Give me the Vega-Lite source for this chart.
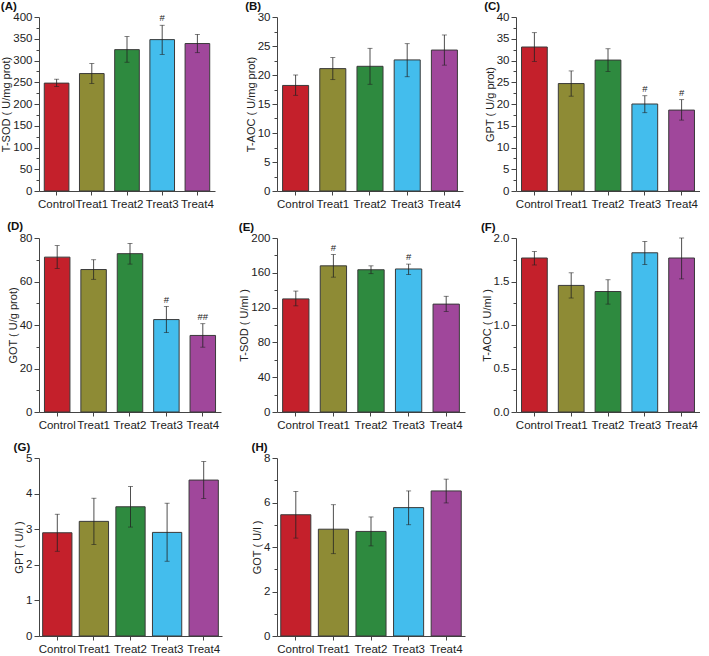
{
  "$schema": "https://vega.github.io/schema/vega-lite/v6.json",
  "padding": {"left": 0, "top": 0, "right": 0, "bottom": 0},
  "config": {
    "font": "Liberation Sans",
    "view": {"stroke": null},
    "axis": {"labelFontSize": 11.5, "labelColor": "#222", "titleFontSize": 11, "titleFontWeight": "normal", "titleColor": "#222", "domainColor": "#444", "tickColor": "#444", "grid": false},
    "axisX": {"title": null, "labelAngle": 0, "tickSize": 4, "labelOverlap": false, "labelPadding": 3},
    "axisY": {"titlePadding": 1, "labelPadding": 2, "labelOverlap": false},
    "title": {"fontSize": 11.5, "fontWeight": "bold", "anchor": "start", "frame": "bounds", "offset": -1, "color": "#111"},
    "bar": {"stroke": "#3a3a3a", "strokeWidth": 1}
  },
  "columns": 3,
  "align": "each",
  "spacing": {"row": 10, "column": 16},
  "datasets": {
    "d": [
      {"p": "A", "g": "Control", "v": 248, "lo": 240, "hi": 257, "s": ""},
      {"p": "A", "g": "Treat1", "v": 270, "lo": 247, "hi": 293, "s": ""},
      {"p": "A", "g": "Treat2", "v": 325, "lo": 296, "hi": 355, "s": ""},
      {"p": "A", "g": "Treat3", "v": 348, "lo": 314, "hi": 381, "s": "#"},
      {"p": "A", "g": "Treat4", "v": 339, "lo": 318, "hi": 360, "s": ""},
      {"p": "B", "g": "Control", "v": 18.2, "lo": 16.5, "hi": 20.0, "s": ""},
      {"p": "B", "g": "Treat1", "v": 21.1, "lo": 19.2, "hi": 23.0, "s": ""},
      {"p": "B", "g": "Treat2", "v": 21.5, "lo": 18.4, "hi": 24.6, "s": ""},
      {"p": "B", "g": "Treat3", "v": 22.6, "lo": 19.7, "hi": 25.4, "s": ""},
      {"p": "B", "g": "Treat4", "v": 24.3, "lo": 21.7, "hi": 26.9, "s": ""},
      {"p": "C", "g": "Control", "v": 33.1, "lo": 29.8, "hi": 36.4, "s": ""},
      {"p": "C", "g": "Treat1", "v": 24.7, "lo": 21.8, "hi": 27.6, "s": ""},
      {"p": "C", "g": "Treat2", "v": 30.1, "lo": 27.5, "hi": 32.7, "s": ""},
      {"p": "C", "g": "Treat3", "v": 20.0, "lo": 18.0, "hi": 21.9, "s": "#"},
      {"p": "C", "g": "Treat4", "v": 18.6, "lo": 16.3, "hi": 21.0, "s": "#"},
      {"p": "D", "g": "Control", "v": 71.2, "lo": 66.0, "hi": 76.5, "s": ""},
      {"p": "D", "g": "Treat1", "v": 65.5, "lo": 61.0, "hi": 70.0, "s": ""},
      {"p": "D", "g": "Treat2", "v": 72.8, "lo": 68.0, "hi": 77.5, "s": ""},
      {"p": "D", "g": "Treat3", "v": 42.5, "lo": 36.5, "hi": 48.5, "s": "#"},
      {"p": "D", "g": "Treat4", "v": 35.2, "lo": 29.8, "hi": 40.6, "s": "##"},
      {"p": "E", "g": "Control", "v": 130, "lo": 122, "hi": 139, "s": ""},
      {"p": "E", "g": "Treat1", "v": 168, "lo": 155, "hi": 181, "s": "#"},
      {"p": "E", "g": "Treat2", "v": 163.5, "lo": 159, "hi": 168, "s": ""},
      {"p": "E", "g": "Treat3", "v": 164.4, "lo": 158, "hi": 170, "s": "#"},
      {"p": "E", "g": "Treat4", "v": 124, "lo": 115.5, "hi": 133, "s": ""},
      {"p": "F", "g": "Control", "v": 1.77, "lo": 1.69, "hi": 1.845, "s": ""},
      {"p": "F", "g": "Treat1", "v": 1.455, "lo": 1.31, "hi": 1.60, "s": ""},
      {"p": "F", "g": "Treat2", "v": 1.385, "lo": 1.24, "hi": 1.52, "s": ""},
      {"p": "F", "g": "Treat3", "v": 1.83, "lo": 1.695, "hi": 1.96, "s": ""},
      {"p": "F", "g": "Treat4", "v": 1.77, "lo": 1.53, "hi": 2.0, "s": ""},
      {"p": "G", "g": "Control", "v": 2.9, "lo": 2.38, "hi": 3.42, "s": ""},
      {"p": "G", "g": "Treat1", "v": 3.22, "lo": 2.57, "hi": 3.87, "s": ""},
      {"p": "G", "g": "Treat2", "v": 3.63, "lo": 3.06, "hi": 4.2, "s": ""},
      {"p": "G", "g": "Treat3", "v": 2.91, "lo": 2.1, "hi": 3.73, "s": ""},
      {"p": "G", "g": "Treat4", "v": 4.38, "lo": 3.86, "hi": 4.9, "s": ""},
      {"p": "H", "g": "Control", "v": 5.45, "lo": 4.4, "hi": 6.5, "s": ""},
      {"p": "H", "g": "Treat1", "v": 4.8, "lo": 3.7, "hi": 5.9, "s": ""},
      {"p": "H", "g": "Treat2", "v": 4.7, "lo": 4.05, "hi": 5.35, "s": ""},
      {"p": "H", "g": "Treat3", "v": 5.77, "lo": 5.0, "hi": 6.52, "s": ""},
      {"p": "H", "g": "Treat4", "v": 6.52, "lo": 5.98, "hi": 7.05, "s": ""}
    ]
  },
  "concat": [
    {"title": "(A)", "width": 176, "height": 174, "data": {"name": "d"}, "transform": [{"filter": "datum.p == 'A'"}],
     "encoding": {"x": {"field": "g", "type": "nominal", "sort": null, "scale": {"paddingInner": 0.3, "paddingOuter": 0.15}}},
     "layer": [
       {"mark": "bar", "encoding": {"y": {"field": "v", "type": "quantitative", "scale": {"domain": [0, 400], "nice": false}, "axis": {"title": "T-SOD ( U/mg prot)", "values": [0, 25, 50, 75, 100, 125, 150, 175, 200, 225, 250, 275, 300, 325, 350, 375, 400], "labelExpr": "datum.value % 50 == 0 ? datum.label : ''", "tickSize": {"condition": {"test": "datum.value % 50 != 0", "value": 3}, "value": 5}}}, "color": {"field": "g", "type": "nominal", "legend": null, "scale": {"domain": ["Control", "Treat1", "Treat2", "Treat3", "Treat4"], "range": ["#C4202B", "#8E8B35", "#2E8A3F", "#43BDED", "#A0479B"]}}}},
       {"mark": {"type": "rule", "color": "#222", "strokeWidth": 0.8}, "encoding": {"y": {"field": "lo", "type": "quantitative", "scale": {"domain": [0, 400], "nice": false}, "axis": {"title": "T-SOD ( U/mg prot)", "values": [0, 25, 50, 75, 100, 125, 150, 175, 200, 225, 250, 275, 300, 325, 350, 375, 400], "labelExpr": "datum.value % 50 == 0 ? datum.label : ''", "tickSize": {"condition": {"test": "datum.value % 50 != 0", "value": 3}, "value": 5}}}, "y2": {"field": "hi"}}},
       {"mark": {"type": "tick", "color": "#222", "size": 5, "thickness": 0.8}, "encoding": {"y": {"field": "lo", "type": "quantitative", "scale": {"domain": [0, 400], "nice": false}, "axis": {"title": "T-SOD ( U/mg prot)", "values": [0, 25, 50, 75, 100, 125, 150, 175, 200, 225, 250, 275, 300, 325, 350, 375, 400], "labelExpr": "datum.value % 50 == 0 ? datum.label : ''", "tickSize": {"condition": {"test": "datum.value % 50 != 0", "value": 3}, "value": 5}}}}},
       {"mark": {"type": "tick", "color": "#222", "size": 5, "thickness": 0.8}, "encoding": {"y": {"field": "hi", "type": "quantitative", "scale": {"domain": [0, 400], "nice": false}, "axis": {"title": "T-SOD ( U/mg prot)", "values": [0, 25, 50, 75, 100, 125, 150, 175, 200, 225, 250, 275, 300, 325, 350, 375, 400], "labelExpr": "datum.value % 50 == 0 ? datum.label : ''", "tickSize": {"condition": {"test": "datum.value % 50 != 0", "value": 3}, "value": 5}}}}},
       {"mark": {"type": "text", "dy": -7, "fontSize": 9.5, "color": "#222"}, "encoding": {"y": {"field": "hi", "type": "quantitative", "scale": {"domain": [0, 400], "nice": false}, "axis": {"title": "T-SOD ( U/mg prot)", "values": [0, 25, 50, 75, 100, 125, 150, 175, 200, 225, 250, 275, 300, 325, 350, 375, 400], "labelExpr": "datum.value % 50 == 0 ? datum.label : ''", "tickSize": {"condition": {"test": "datum.value % 50 != 0", "value": 3}, "value": 5}}}, "text": {"field": "s"}}}
     ]},
    {"title": "(B)", "width": 186, "height": 174, "data": {"name": "d"}, "transform": [{"filter": "datum.p == 'B'"}],
     "encoding": {"x": {"field": "g", "type": "nominal", "sort": null, "scale": {"paddingInner": 0.3, "paddingOuter": 0.15}}},
     "layer": [
       {"mark": "bar", "encoding": {"y": {"field": "v", "type": "quantitative", "scale": {"domain": [0, 30], "nice": false}, "axis": {"title": "T-AOC ( U/mg prot)", "values": [0, 2.5, 5, 7.5, 10, 12.5, 15, 17.5, 20, 22.5, 25, 27.5, 30], "labelExpr": "datum.value % 5 == 0 ? datum.label : ''", "tickSize": {"condition": {"test": "datum.value % 5 != 0", "value": 3}, "value": 5}}}, "color": {"field": "g", "type": "nominal", "legend": null, "scale": {"domain": ["Control", "Treat1", "Treat2", "Treat3", "Treat4"], "range": ["#C4202B", "#8E8B35", "#2E8A3F", "#43BDED", "#A0479B"]}}}},
       {"mark": {"type": "rule", "color": "#222", "strokeWidth": 0.8}, "encoding": {"y": {"field": "lo", "type": "quantitative", "scale": {"domain": [0, 30], "nice": false}, "axis": {"title": "T-AOC ( U/mg prot)", "values": [0, 2.5, 5, 7.5, 10, 12.5, 15, 17.5, 20, 22.5, 25, 27.5, 30], "labelExpr": "datum.value % 5 == 0 ? datum.label : ''", "tickSize": {"condition": {"test": "datum.value % 5 != 0", "value": 3}, "value": 5}}}, "y2": {"field": "hi"}}},
       {"mark": {"type": "tick", "color": "#222", "size": 5, "thickness": 0.8}, "encoding": {"y": {"field": "lo", "type": "quantitative", "scale": {"domain": [0, 30], "nice": false}, "axis": {"title": "T-AOC ( U/mg prot)", "values": [0, 2.5, 5, 7.5, 10, 12.5, 15, 17.5, 20, 22.5, 25, 27.5, 30], "labelExpr": "datum.value % 5 == 0 ? datum.label : ''", "tickSize": {"condition": {"test": "datum.value % 5 != 0", "value": 3}, "value": 5}}}}},
       {"mark": {"type": "tick", "color": "#222", "size": 5, "thickness": 0.8}, "encoding": {"y": {"field": "hi", "type": "quantitative", "scale": {"domain": [0, 30], "nice": false}, "axis": {"title": "T-AOC ( U/mg prot)", "values": [0, 2.5, 5, 7.5, 10, 12.5, 15, 17.5, 20, 22.5, 25, 27.5, 30], "labelExpr": "datum.value % 5 == 0 ? datum.label : ''", "tickSize": {"condition": {"test": "datum.value % 5 != 0", "value": 3}, "value": 5}}}}}
     ]},
    {"title": "(C)", "width": 184, "height": 174, "data": {"name": "d"}, "transform": [{"filter": "datum.p == 'C'"}],
     "encoding": {"x": {"field": "g", "type": "nominal", "sort": null, "scale": {"paddingInner": 0.3, "paddingOuter": 0.15}}},
     "layer": [
       {"mark": "bar", "encoding": {"y": {"field": "v", "type": "quantitative", "scale": {"domain": [0, 40], "nice": false}, "axis": {"title": "GPT ( U/g prot)", "values": [0, 2.5, 5, 7.5, 10, 12.5, 15, 17.5, 20, 22.5, 25, 27.5, 30, 32.5, 35, 37.5, 40], "labelExpr": "datum.value % 5 == 0 ? datum.label : ''", "tickSize": {"condition": {"test": "datum.value % 5 != 0", "value": 3}, "value": 5}}}, "color": {"field": "g", "type": "nominal", "legend": null, "scale": {"domain": ["Control", "Treat1", "Treat2", "Treat3", "Treat4"], "range": ["#C4202B", "#8E8B35", "#2E8A3F", "#43BDED", "#A0479B"]}}}},
       {"mark": {"type": "rule", "color": "#222", "strokeWidth": 0.8}, "encoding": {"y": {"field": "lo", "type": "quantitative", "scale": {"domain": [0, 40], "nice": false}, "axis": {"title": "GPT ( U/g prot)", "values": [0, 2.5, 5, 7.5, 10, 12.5, 15, 17.5, 20, 22.5, 25, 27.5, 30, 32.5, 35, 37.5, 40], "labelExpr": "datum.value % 5 == 0 ? datum.label : ''", "tickSize": {"condition": {"test": "datum.value % 5 != 0", "value": 3}, "value": 5}}}, "y2": {"field": "hi"}}},
       {"mark": {"type": "tick", "color": "#222", "size": 5, "thickness": 0.8}, "encoding": {"y": {"field": "lo", "type": "quantitative", "scale": {"domain": [0, 40], "nice": false}, "axis": {"title": "GPT ( U/g prot)", "values": [0, 2.5, 5, 7.5, 10, 12.5, 15, 17.5, 20, 22.5, 25, 27.5, 30, 32.5, 35, 37.5, 40], "labelExpr": "datum.value % 5 == 0 ? datum.label : ''", "tickSize": {"condition": {"test": "datum.value % 5 != 0", "value": 3}, "value": 5}}}}},
       {"mark": {"type": "tick", "color": "#222", "size": 5, "thickness": 0.8}, "encoding": {"y": {"field": "hi", "type": "quantitative", "scale": {"domain": [0, 40], "nice": false}, "axis": {"title": "GPT ( U/g prot)", "values": [0, 2.5, 5, 7.5, 10, 12.5, 15, 17.5, 20, 22.5, 25, 27.5, 30, 32.5, 35, 37.5, 40], "labelExpr": "datum.value % 5 == 0 ? datum.label : ''", "tickSize": {"condition": {"test": "datum.value % 5 != 0", "value": 3}, "value": 5}}}}},
       {"mark": {"type": "text", "dy": -7, "fontSize": 9.5, "color": "#222"}, "encoding": {"y": {"field": "hi", "type": "quantitative", "scale": {"domain": [0, 40], "nice": false}, "axis": {"title": "GPT ( U/g prot)", "values": [0, 2.5, 5, 7.5, 10, 12.5, 15, 17.5, 20, 22.5, 25, 27.5, 30, 32.5, 35, 37.5, 40], "labelExpr": "datum.value % 5 == 0 ? datum.label : ''", "tickSize": {"condition": {"test": "datum.value % 5 != 0", "value": 3}, "value": 5}}}, "text": {"field": "s"}}}
     ]},
    {"title": "(D)", "width": 182, "height": 174, "data": {"name": "d"}, "transform": [{"filter": "datum.p == 'D'"}],
     "encoding": {"x": {"field": "g", "type": "nominal", "sort": null, "scale": {"paddingInner": 0.3, "paddingOuter": 0.15}}},
     "layer": [
       {"mark": "bar", "encoding": {"y": {"field": "v", "type": "quantitative", "scale": {"domain": [0, 80], "nice": false}, "axis": {"title": "GOT ( U/g prot)", "values": [0, 10, 20, 30, 40, 50, 60, 70, 80], "labelExpr": "datum.value % 20 == 0 ? datum.label : ''", "tickSize": {"condition": {"test": "datum.value % 20 != 0", "value": 3}, "value": 5}}}, "color": {"field": "g", "type": "nominal", "legend": null, "scale": {"domain": ["Control", "Treat1", "Treat2", "Treat3", "Treat4"], "range": ["#C2392A", "#8E8B35", "#2E8A3F", "#5BC2EE", "#A0479B"]}}}},
       {"mark": {"type": "rule", "color": "#222", "strokeWidth": 0.8}, "encoding": {"y": {"field": "lo", "type": "quantitative", "scale": {"domain": [0, 80], "nice": false}, "axis": {"title": "GOT ( U/g prot)", "values": [0, 10, 20, 30, 40, 50, 60, 70, 80], "labelExpr": "datum.value % 20 == 0 ? datum.label : ''", "tickSize": {"condition": {"test": "datum.value % 20 != 0", "value": 3}, "value": 5}}}, "y2": {"field": "hi"}}},
       {"mark": {"type": "tick", "color": "#222", "size": 5, "thickness": 0.8}, "encoding": {"y": {"field": "lo", "type": "quantitative", "scale": {"domain": [0, 80], "nice": false}, "axis": {"title": "GOT ( U/g prot)", "values": [0, 10, 20, 30, 40, 50, 60, 70, 80], "labelExpr": "datum.value % 20 == 0 ? datum.label : ''", "tickSize": {"condition": {"test": "datum.value % 20 != 0", "value": 3}, "value": 5}}}}},
       {"mark": {"type": "tick", "color": "#222", "size": 5, "thickness": 0.8}, "encoding": {"y": {"field": "hi", "type": "quantitative", "scale": {"domain": [0, 80], "nice": false}, "axis": {"title": "GOT ( U/g prot)", "values": [0, 10, 20, 30, 40, 50, 60, 70, 80], "labelExpr": "datum.value % 20 == 0 ? datum.label : ''", "tickSize": {"condition": {"test": "datum.value % 20 != 0", "value": 3}, "value": 5}}}}},
       {"mark": {"type": "text", "dy": -7, "fontSize": 9.5, "color": "#222"}, "encoding": {"y": {"field": "hi", "type": "quantitative", "scale": {"domain": [0, 80], "nice": false}, "axis": {"title": "GOT ( U/g prot)", "values": [0, 10, 20, 30, 40, 50, 60, 70, 80], "labelExpr": "datum.value % 20 == 0 ? datum.label : ''", "tickSize": {"condition": {"test": "datum.value % 20 != 0", "value": 3}, "value": 5}}}, "text": {"field": "s"}}}
     ]},
    {"title": "(E)", "width": 188, "height": 174, "data": {"name": "d"}, "transform": [{"filter": "datum.p == 'E'"}],
     "encoding": {"x": {"field": "g", "type": "nominal", "sort": null, "scale": {"paddingInner": 0.3, "paddingOuter": 0.15}}},
     "layer": [
       {"mark": "bar", "encoding": {"y": {"field": "v", "type": "quantitative", "scale": {"domain": [0, 200], "nice": false}, "axis": {"title": "T-SOD ( U/ml )", "values": [0, 20, 40, 60, 80, 100, 120, 140, 160, 180, 200], "labelExpr": "datum.value % 40 == 0 ? datum.label : ''", "tickSize": {"condition": {"test": "datum.value % 40 != 0", "value": 3}, "value": 5}}}, "color": {"field": "g", "type": "nominal", "legend": null, "scale": {"domain": ["Control", "Treat1", "Treat2", "Treat3", "Treat4"], "range": ["#C2392A", "#8E8B35", "#2E8A3F", "#43BDED", "#A0479B"]}}}},
       {"mark": {"type": "rule", "color": "#222", "strokeWidth": 0.8}, "encoding": {"y": {"field": "lo", "type": "quantitative", "scale": {"domain": [0, 200], "nice": false}, "axis": {"title": "T-SOD ( U/ml )", "values": [0, 20, 40, 60, 80, 100, 120, 140, 160, 180, 200], "labelExpr": "datum.value % 40 == 0 ? datum.label : ''", "tickSize": {"condition": {"test": "datum.value % 40 != 0", "value": 3}, "value": 5}}}, "y2": {"field": "hi"}}},
       {"mark": {"type": "tick", "color": "#222", "size": 5, "thickness": 0.8}, "encoding": {"y": {"field": "lo", "type": "quantitative", "scale": {"domain": [0, 200], "nice": false}, "axis": {"title": "T-SOD ( U/ml )", "values": [0, 20, 40, 60, 80, 100, 120, 140, 160, 180, 200], "labelExpr": "datum.value % 40 == 0 ? datum.label : ''", "tickSize": {"condition": {"test": "datum.value % 40 != 0", "value": 3}, "value": 5}}}}},
       {"mark": {"type": "tick", "color": "#222", "size": 5, "thickness": 0.8}, "encoding": {"y": {"field": "hi", "type": "quantitative", "scale": {"domain": [0, 200], "nice": false}, "axis": {"title": "T-SOD ( U/ml )", "values": [0, 20, 40, 60, 80, 100, 120, 140, 160, 180, 200], "labelExpr": "datum.value % 40 == 0 ? datum.label : ''", "tickSize": {"condition": {"test": "datum.value % 40 != 0", "value": 3}, "value": 5}}}}},
       {"mark": {"type": "text", "dy": -7, "fontSize": 9.5, "color": "#222"}, "encoding": {"y": {"field": "hi", "type": "quantitative", "scale": {"domain": [0, 200], "nice": false}, "axis": {"title": "T-SOD ( U/ml )", "values": [0, 20, 40, 60, 80, 100, 120, 140, 160, 180, 200], "labelExpr": "datum.value % 40 == 0 ? datum.label : ''", "tickSize": {"condition": {"test": "datum.value % 40 != 0", "value": 3}, "value": 5}}}, "text": {"field": "s"}}}
     ]},
    {"title": "(F)", "width": 184, "height": 174, "data": {"name": "d"}, "transform": [{"filter": "datum.p == 'F'"}],
     "encoding": {"x": {"field": "g", "type": "nominal", "sort": null, "scale": {"paddingInner": 0.3, "paddingOuter": 0.15}}},
     "layer": [
       {"mark": "bar", "encoding": {"y": {"field": "v", "type": "quantitative", "scale": {"domain": [0, 2], "nice": false}, "axis": {"title": "T-AOC ( U/ml )", "format": ".1f", "values": [0, 0.25, 0.5, 0.75, 1, 1.25, 1.5, 1.75, 2], "labelExpr": "abs(datum.value * 2 - round(datum.value * 2)) < 0.001 ? datum.label : ''", "tickSize": {"condition": {"test": "abs(datum.value * 2 - round(datum.value * 2)) > 0.001", "value": 3}, "value": 5}}}, "color": {"field": "g", "type": "nominal", "legend": null, "scale": {"domain": ["Control", "Treat1", "Treat2", "Treat3", "Treat4"], "range": ["#C2392A", "#8E8B35", "#2E8A3F", "#43BDED", "#A0479B"]}}}},
       {"mark": {"type": "rule", "color": "#222", "strokeWidth": 0.8}, "encoding": {"y": {"field": "lo", "type": "quantitative", "scale": {"domain": [0, 2], "nice": false}, "axis": {"title": "T-AOC ( U/ml )", "format": ".1f", "values": [0, 0.25, 0.5, 0.75, 1, 1.25, 1.5, 1.75, 2], "labelExpr": "abs(datum.value * 2 - round(datum.value * 2)) < 0.001 ? datum.label : ''", "tickSize": {"condition": {"test": "abs(datum.value * 2 - round(datum.value * 2)) > 0.001", "value": 3}, "value": 5}}}, "y2": {"field": "hi"}}},
       {"mark": {"type": "tick", "color": "#222", "size": 5, "thickness": 0.8}, "encoding": {"y": {"field": "lo", "type": "quantitative", "scale": {"domain": [0, 2], "nice": false}, "axis": {"title": "T-AOC ( U/ml )", "format": ".1f", "values": [0, 0.25, 0.5, 0.75, 1, 1.25, 1.5, 1.75, 2], "labelExpr": "abs(datum.value * 2 - round(datum.value * 2)) < 0.001 ? datum.label : ''", "tickSize": {"condition": {"test": "abs(datum.value * 2 - round(datum.value * 2)) > 0.001", "value": 3}, "value": 5}}}}},
       {"mark": {"type": "tick", "color": "#222", "size": 5, "thickness": 0.8}, "encoding": {"y": {"field": "hi", "type": "quantitative", "scale": {"domain": [0, 2], "nice": false}, "axis": {"title": "T-AOC ( U/ml )", "format": ".1f", "values": [0, 0.25, 0.5, 0.75, 1, 1.25, 1.5, 1.75, 2], "labelExpr": "abs(datum.value * 2 - round(datum.value * 2)) < 0.001 ? datum.label : ''", "tickSize": {"condition": {"test": "abs(datum.value * 2 - round(datum.value * 2)) > 0.001", "value": 3}, "value": 5}}}}}
     ]},
    {"title": "(G)", "width": 183, "height": 178, "data": {"name": "d"}, "transform": [{"filter": "datum.p == 'G'"}],
     "encoding": {"x": {"field": "g", "type": "nominal", "sort": null, "scale": {"paddingInner": 0.2, "paddingOuter": 0.1}}},
     "layer": [
       {"mark": "bar", "encoding": {"y": {"field": "v", "type": "quantitative", "scale": {"domain": [0, 5], "nice": false}, "axis": {"title": "GPT ( U/l )", "format": "d", "values": [0, 0.5, 1, 1.5, 2, 2.5, 3, 3.5, 4, 4.5, 5], "labelExpr": "datum.value == round(datum.value) ? datum.label : ''", "tickSize": {"condition": {"test": "datum.value != round(datum.value)", "value": 3}, "value": 5}}}, "color": {"field": "g", "type": "nominal", "legend": null, "scale": {"domain": ["Control", "Treat1", "Treat2", "Treat3", "Treat4"], "range": ["#C2392A", "#8E8B35", "#2E8A3F", "#43BDED", "#A0479B"]}}}},
       {"mark": {"type": "rule", "color": "#222", "strokeWidth": 0.8}, "encoding": {"y": {"field": "lo", "type": "quantitative", "scale": {"domain": [0, 5], "nice": false}, "axis": {"title": "GPT ( U/l )", "format": "d", "values": [0, 0.5, 1, 1.5, 2, 2.5, 3, 3.5, 4, 4.5, 5], "labelExpr": "datum.value == round(datum.value) ? datum.label : ''", "tickSize": {"condition": {"test": "datum.value != round(datum.value)", "value": 3}, "value": 5}}}, "y2": {"field": "hi"}}},
       {"mark": {"type": "tick", "color": "#222", "size": 5, "thickness": 0.8}, "encoding": {"y": {"field": "lo", "type": "quantitative", "scale": {"domain": [0, 5], "nice": false}, "axis": {"title": "GPT ( U/l )", "format": "d", "values": [0, 0.5, 1, 1.5, 2, 2.5, 3, 3.5, 4, 4.5, 5], "labelExpr": "datum.value == round(datum.value) ? datum.label : ''", "tickSize": {"condition": {"test": "datum.value != round(datum.value)", "value": 3}, "value": 5}}}}},
       {"mark": {"type": "tick", "color": "#222", "size": 5, "thickness": 0.8}, "encoding": {"y": {"field": "hi", "type": "quantitative", "scale": {"domain": [0, 5], "nice": false}, "axis": {"title": "GPT ( U/l )", "format": "d", "values": [0, 0.5, 1, 1.5, 2, 2.5, 3, 3.5, 4, 4.5, 5], "labelExpr": "datum.value == round(datum.value) ? datum.label : ''", "tickSize": {"condition": {"test": "datum.value != round(datum.value)", "value": 3}, "value": 5}}}}}
     ]},
    {"title": "(H)", "width": 188, "height": 178, "data": {"name": "d"}, "transform": [{"filter": "datum.p == 'H'"}],
     "encoding": {"x": {"field": "g", "type": "nominal", "sort": null, "scale": {"paddingInner": 0.2, "paddingOuter": 0.1}}},
     "layer": [
       {"mark": "bar", "encoding": {"y": {"field": "v", "type": "quantitative", "scale": {"domain": [0, 8], "nice": false}, "axis": {"title": "GOT ( U/l )", "values": [0, 1, 2, 3, 4, 5, 6, 7, 8], "labelExpr": "datum.value % 2 == 0 ? datum.label : ''", "tickSize": {"condition": {"test": "datum.value % 2 != 0", "value": 3}, "value": 5}}}, "color": {"field": "g", "type": "nominal", "legend": null, "scale": {"domain": ["Control", "Treat1", "Treat2", "Treat3", "Treat4"], "range": ["#C23B2B", "#8E8B35", "#2E8A3F", "#6BC4EE", "#A0479B"]}}}},
       {"mark": {"type": "rule", "color": "#222", "strokeWidth": 0.8}, "encoding": {"y": {"field": "lo", "type": "quantitative", "scale": {"domain": [0, 8], "nice": false}, "axis": {"title": "GOT ( U/l )", "values": [0, 1, 2, 3, 4, 5, 6, 7, 8], "labelExpr": "datum.value % 2 == 0 ? datum.label : ''", "tickSize": {"condition": {"test": "datum.value % 2 != 0", "value": 3}, "value": 5}}}, "y2": {"field": "hi"}}},
       {"mark": {"type": "tick", "color": "#222", "size": 5, "thickness": 0.8}, "encoding": {"y": {"field": "lo", "type": "quantitative", "scale": {"domain": [0, 8], "nice": false}, "axis": {"title": "GOT ( U/l )", "values": [0, 1, 2, 3, 4, 5, 6, 7, 8], "labelExpr": "datum.value % 2 == 0 ? datum.label : ''", "tickSize": {"condition": {"test": "datum.value % 2 != 0", "value": 3}, "value": 5}}}}},
       {"mark": {"type": "tick", "color": "#222", "size": 5, "thickness": 0.8}, "encoding": {"y": {"field": "hi", "type": "quantitative", "scale": {"domain": [0, 8], "nice": false}, "axis": {"title": "GOT ( U/l )", "values": [0, 1, 2, 3, 4, 5, 6, 7, 8], "labelExpr": "datum.value % 2 == 0 ? datum.label : ''", "tickSize": {"condition": {"test": "datum.value % 2 != 0", "value": 3}, "value": 5}}}}}
     ]}
  ]
}
